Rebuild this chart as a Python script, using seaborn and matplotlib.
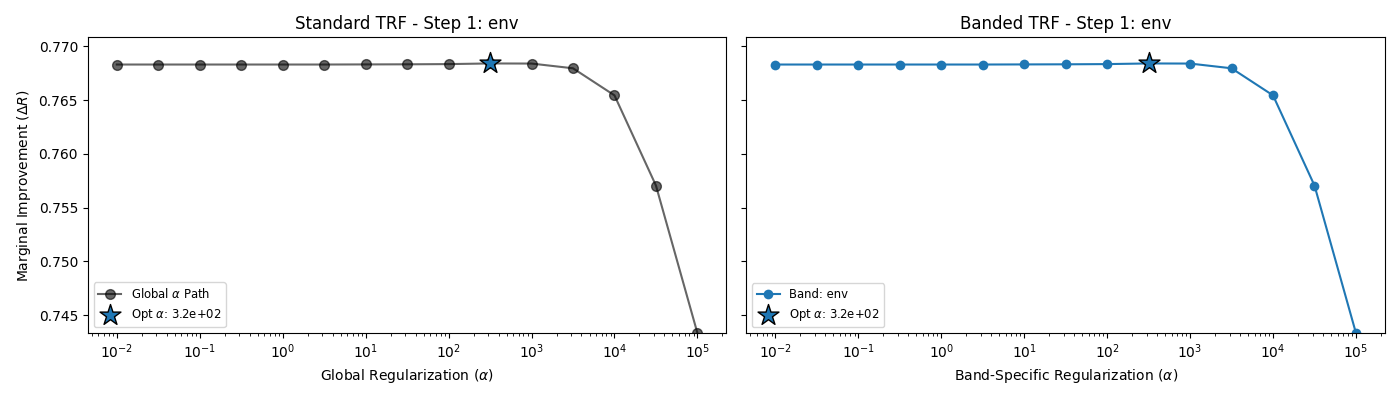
import numpy as np
import pandas as pd
import matplotlib
matplotlib.use("Agg")
import matplotlib.pyplot as plt
import seaborn as sns

alphas = [1e-2, 10**-1.5, 1e-1, 10**-0.5, 1e0, 10**0.5, 1e1, 10**1.5, 1e2, 10**2.5,
          1e3, 10**3.5, 1e4, 10**4.5, 1e5]
scores = [0.76832, 0.76832, 0.76832, 0.76832, 0.76832, 0.76832, 0.76833, 0.76834,
          0.76836, 0.76842, 0.76841, 0.76797, 0.76545, 0.75706, 0.74333]
opt_alpha = 10**2.5
opt_score = 0.76842
band_name = "env"

df = pd.DataFrame({"alpha": alphas, "score": scores})

fig, axes = plt.subplots(1, 2, figsize=(14, 4), sharey=True, dpi=100)

# Left: standard TRF
ax = axes[0]
sns.lineplot(data=df, x="alpha", y="score", ax=ax, color="black", alpha=0.6,
             marker="o", markersize=7, markeredgewidth=1, markeredgecolor="black",
             label=r"Global $\alpha$ Path")
sns.scatterplot(x=[opt_alpha], y=[opt_score], ax=ax, marker="*", s=250,
                color="tab:blue", edgecolor="black", linewidth=1, zorder=5,
                label=rf"Opt $\alpha$: {opt_alpha:.1e}")
ax.set_xscale("log")
ax.set_title(f"Standard TRF - Step 1: {band_name}", fontsize=12)
ax.set_xlabel(r"Global Regularization ($\alpha$)")
ax.set_ylabel(r"Marginal Improvement ($\Delta R$)")
ax.legend(loc="lower left", fontsize="small")

# Right: banded TRF
ax = axes[1]
sns.lineplot(data=df, x="alpha", y="score", ax=ax, color="tab:blue",
             marker="o", markersize=7, markeredgewidth=0,
             label=f"Band: {band_name}")
sns.scatterplot(x=[opt_alpha], y=[opt_score], ax=ax, marker="*", s=250,
                color="tab:blue", edgecolor="black", linewidth=1, zorder=5,
                label=rf"Opt $\alpha$: {opt_alpha:.1e}")
ax.set_xscale("log")
ax.set_title(f"Banded TRF - Step 1: {band_name}", fontsize=12)
ax.set_xlabel(r"Band-Specific Regularization ($\alpha$)")
ax.set_ylabel("")
ax.legend(loc="lower left", fontsize="small")

axes[0].set_ylim(min(scores), 0.77085)

plt.tight_layout()
fig.savefig("out.png", dpi=100)
